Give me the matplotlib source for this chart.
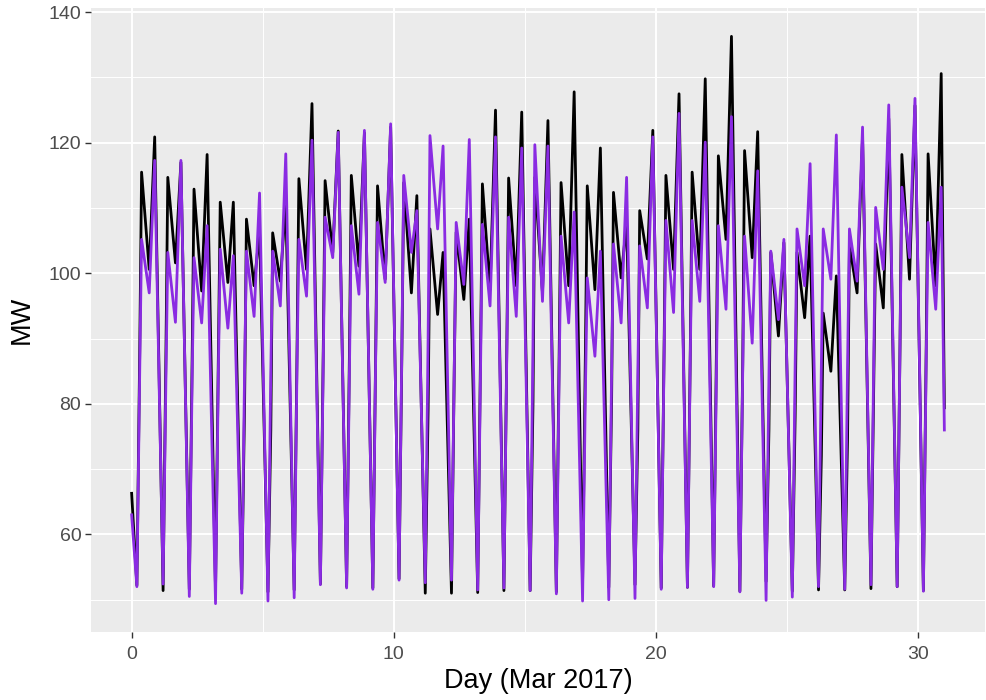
from __future__ import annotations

import matplotlib
import numpy as np

matplotlib.use("Agg")
import matplotlib.pyplot as plt

key_hours = [4.8, 7.4, 9.1, 16.1, 21.1]  # trough, rise, morning peak, midday dip, evening peak

days = list(range(31))

# demand (black), MW
demand_start = 66.3
demand_end = 79.4
demand_trough = [52.2, 51.4, 51.6, 51.5, 51.6, 51.2, 51.5, 52.4, 52.0, 51.8, 53.2,
                 51.0, 51.0, 51.1, 51.4, 51.4, 51.2, 52.5, 51.9, 52.3, 51.8, 51.9,
                 52.1, 51.3, 52.8, 51.3, 51.5, 51.5, 51.7, 52.0, 51.4]
demand_rise = [88, 88, 87, 87, 80, 76, 88, 88, 88, 88, 88,
               79, 86, 88, 88, 80, 88, 88, 81, 76, 88, 88,
               89, 86, 76, 78, 72, 75, 84, 89, 89]
demand_morning = [115.5, 114.7, 112.9, 110.9, 108.3, 106.2, 114.5, 114.2, 115.0, 113.4, 113.9,
                  106.8, 106.3, 113.7, 114.6, 114.7, 113.9, 113.4, 112.4, 109.6, 115.0, 115.5,
                  118.0, 118.8, 103.2, 103.2, 93.9, 104.3, 104.5, 118.2, 118.3]
demand_dip = [100.6, 101.6, 97.3, 98.6, 98.1, 98.8, 100.6, 103.2, 101.1, 99.1, 97.0,
              93.7, 96.0, 97.5, 98.1, 97.0, 98.1, 97.5, 99.3, 102.2, 100.6, 100.6,
              105.2, 102.4, 90.4, 93.2, 85.0, 97.0, 94.7, 99.1, 98.1]
demand_evening = [120.9, 117.0, 118.2, 110.9, 106.5, 110.9, 126.0, 121.8, 121.5, 122.4, 111.9,
                  103.2, 108.3, 125.0, 124.7, 123.4, 127.8, 119.2, 107.8, 121.9, 127.5, 129.8,
                  136.3, 121.7, 104.7, 105.7, 99.6, 121.0, 123.7, 125.7, 130.6]

# fitted values (purple), MW
fitted_start = 63.0
fitted_end = 76.0
fitted_trough = [52.0, 52.4, 50.5, 49.4, 51.0, 49.8, 50.3, 52.3, 51.8, 51.6, 53.0,
                 52.6, 53.0, 51.5, 51.8, 51.4, 50.9, 49.8, 50.0, 50.2, 51.6, 51.9,
                 52.0, 51.2, 49.9, 50.4, 52.0, 51.6, 52.3, 52.0, 51.3]
fitted_rise = [85, 84, 84, 85, 85, 85, 86, 87, 86, 87, 89,
               90, 86, 86, 87, 89, 85, 82, 85, 85, 87, 87,
               86, 85, 84, 86, 86, 86, 88, 89, 87]
fitted_morning = [105.2, 103.2, 102.4, 103.7, 103.4, 103.4, 105.2, 108.6, 107.3, 107.8, 115.0,
                  121.1, 107.8, 107.5, 108.6, 119.7, 105.7, 99.3, 104.5, 104.2, 108.1, 108.1,
                  107.3, 105.7, 103.4, 106.8, 106.8, 106.8, 110.1, 113.2, 107.8]
fitted_dip = [97.0, 92.5, 92.4, 91.6, 93.4, 95.0, 96.5, 102.4, 96.8, 98.6, 103.2,
              106.8, 98.3, 95.0, 93.4, 95.7, 92.4, 87.3, 92.4, 94.7, 94.0, 95.7,
              94.5, 89.3, 92.9, 98.1, 99.1, 98.8, 100.6, 102.4, 94.5]
fitted_evening = [117.3, 117.3, 107.3, 102.7, 112.3, 118.3, 120.4, 121.6, 121.9, 122.9, 109.6,
                  119.5, 120.5, 120.9, 119.2, 119.5, 109.4, 103.4, 114.7, 120.9, 124.5, 120.1,
                  124.0, 115.7, 105.2, 116.8, 121.2, 122.4, 125.8, 126.8, 113.2]


def build_series(start, end, *daily):
    t = [0.0]
    v = [start]
    for i, d in enumerate(days):
        for h, vals in zip(key_hours, daily):
            t.append(d + h / 24)
            v.append(vals[i])
    t.append(float(days[-1] + 1))
    v.append(end)
    return np.array(t), np.array(v)


t_dem, y_dem = build_series(demand_start, demand_end, demand_trough, demand_rise,
                            demand_morning, demand_dip, demand_evening)
t_fit, y_fit = build_series(fitted_start, fitted_end, fitted_trough, fitted_rise,
                            fitted_morning, fitted_dip, fitted_evening)

plt.rcParams["font.family"] = ["Liberation Sans", "DejaVu Sans"]

fig = plt.figure(figsize=(9.87, 7.0), dpi=100)
ax = fig.add_axes([91 / 987, 68 / 700, 894 / 987, 624 / 700])
ax.set_facecolor("#EBEBEB")

ax.plot(t_dem, y_dem, color="black", lw=2.0, solid_joinstyle="round", zorder=3)
ax.plot(t_fit, y_fit, color="#8A2BE2", lw=2.0, solid_joinstyle="round", zorder=4)

# ggplot-style limits: 5% expansion of the data range
xmin, xmax = t_dem.min(), t_dem.max()
ymin = min(y_dem.min(), y_fit.min())
ymax = max(y_dem.max(), y_fit.max())
ax.set_xlim(xmin - 0.05 * (xmax - xmin), xmax + 0.05 * (xmax - xmin))
ax.set_ylim(ymin - 0.05 * (ymax - ymin), ymax + 0.05 * (ymax - ymin))

ax.set_xticks([0, 10, 20, 30])
ax.set_xticks([5, 15, 25], minor=True)
ax.set_yticks([60, 80, 100, 120, 140])
ax.set_yticks([50, 70, 90, 110, 130], minor=True)
ax.grid(which="major", color="white", lw=1.4)
ax.grid(which="minor", color="white", lw=0.7)
ax.set_axisbelow(True)

for s in ax.spines.values():
    s.set_visible(False)
ax.tick_params(which="major", length=4, width=1.0, color="#333333",
               labelsize=14, labelcolor="#4D4D4D")
ax.tick_params(axis="x", which="major", pad=6)
ax.tick_params(axis="y", which="major", pad=3)
ax.tick_params(which="minor", length=0)

ax.set_xlabel("Day (Mar 2017)", fontsize=19.5, labelpad=4)
ax.set_ylabel("MW", fontsize=19.5, labelpad=10)

fig.savefig("out.png", dpi=100)
